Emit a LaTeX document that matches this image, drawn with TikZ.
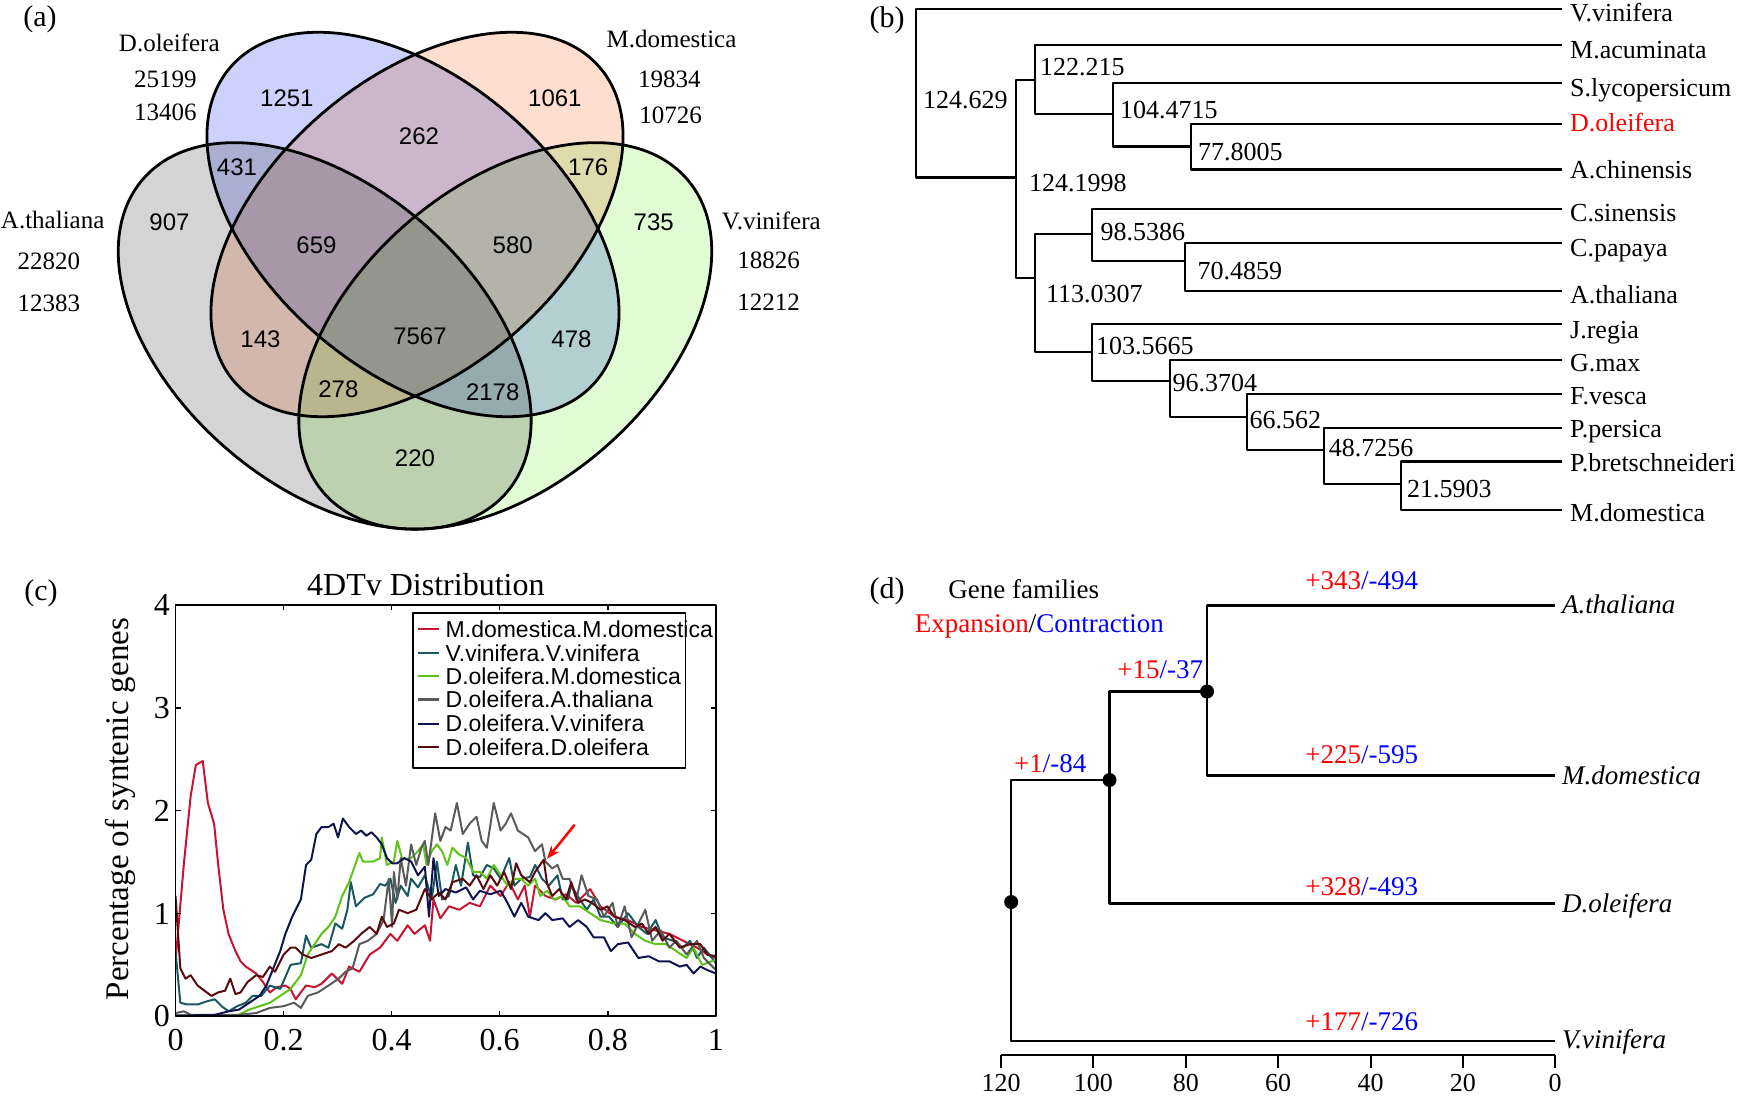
\documentclass[tikz,border=0pt]{standalone}
\usepackage{fontspec}
\setmainfont{Liberation Serif}
\newfontfamily\sansf{Liberation Sans}
\usetikzlibrary{arrows.meta}
\newcommand\fsz[1]{\fontsize{#1}{#1}\selectfont}
\definecolor{vgray}{RGB}{212,212,212}
\definecolor{vblue}{RGB}{205,210,252}
\definecolor{vorange}{RGB}{253,222,207}
\definecolor{vgreen}{RGB}{225,252,212}
\definecolor{cred}{RGB}{200,20,50}
\definecolor{cteal}{RGB}{24,88,96}
\definecolor{cgreen}{RGB}{95,195,25}
\definecolor{cgray}{RGB}{90,90,90}
\definecolor{cnavy}{RGB}{15,20,80}
\definecolor{cbrown}{RGB}{90,10,15}
\begin{document}
\begin{tikzpicture}[x=1pt,y=-1pt,line join=round,
  panel/.style={inner sep=0pt, font=\fsz{30}},
  lab/.style={inner sep=0pt, font=\fsz{25}},
  num/.style={inner sep=0pt, font=\sansf\fsz{24}},
  tiplab/.style={inner sep=0pt, anchor=base west, font=\fsz{26}},
  nodelab/.style={inner sep=0pt, anchor=base west, font=\fsz{26}},
  dlab/.style={inner sep=0pt, anchor=base west, font=\fsz{27}},
  branch/.style={line width=2.2pt},
  dbranch/.style={line width=2.5pt},
  vline/.style={line width=2.8pt},
  curve/.style={line width=2pt},
  legtext/.style={inner sep=0pt, anchor=base west, font=\sansf\fsz{23}},
]
\useasboundingbox (0,0) rectangle (1745,1095);

% ================= (a) Venn =================
\node[panel] (pa) at (40,19) {(a)};
\coordinate (cA) at (324.7,335.9);
\coordinate (cD) at (413,224.5);
\coordinate (cM) at (417,224.5);
\coordinate (cV) at (505.3,335.9);
\fill[vgray, blend mode=multiply, rotate around={-40.7:(cA)}] (cA) ellipse [x radius=240pt, y radius=149.5pt];
\fill[vorange, blend mode=multiply, rotate around={40.7:(cM)}] (cM) ellipse [x radius=241pt, y radius=146pt];
\fill[vblue, blend mode=multiply, rotate around={-40.7:(cD)}] (cD) ellipse [x radius=241pt, y radius=146pt];
\fill[vgreen, blend mode=multiply, rotate around={40.7:(cV)}] (cV) ellipse [x radius=240pt, y radius=149.5pt];
\draw[vline, rotate around={-40.7:(cA)}] (cA) ellipse [x radius=240pt, y radius=149.5pt];
\draw[vline, rotate around={40.7:(cM)}] (cM) ellipse [x radius=241pt, y radius=146pt];
\draw[vline, rotate around={-40.7:(cD)}] (cD) ellipse [x radius=241pt, y radius=146pt];
\draw[vline, rotate around={40.7:(cV)}] (cV) ellipse [x radius=240pt, y radius=149.5pt];

\node[lab] (ldo) at (169.3,43) {D.oleifera};
\node[lab] (ldo1) at (165.4,79.5) {25199};
\node[lab] (ldo2) at (165.4,112) {13406};
\node[lab] (lmd) at (671.5,39.5) {M.domestica};
\node[lab] (lmd1) at (669.3,79.3) {19834};
\node[lab] (lmd2) at (670.7,115) {10726};
\node[lab] (lat) at (52.7,220.4) {A.thaliana};
\node[lab] (lat1) at (48.8,261.7) {22820};
\node[lab] (lat2) at (48.8,303) {12383};
\node[lab] (lvv) at (771.3,220.4) {V.vinifera};
\node[lab] (lvv1) at (768.6,260) {18826};
\node[lab] (lvv2) at (768.6,302.4) {12212};

\node[num] (n1251) at (286.9,97.8) {1251};
\node[num] (n1061) at (554.9,97.8) {1061};
\node[num] (n262) at (419,136) {262};
\node[num] (n431) at (237,167) {431};
\node[num] (n176) at (588.2,167) {176};
\node[num] (n907) at (169.5,222.4) {907};
\node[num] (n735) at (653.7,222.4) {735};
\node[num] (n659) at (316.5,245.5) {659};
\node[num] (n580) at (512.7,245.5) {580};
\node[num] (n7567) at (420,336) {7567};
\node[num] (n143) at (260.5,339.3) {143};
\node[num] (n478) at (571.5,339.3) {478};
\node[num] (n278) at (338.4,389.3) {278};
\node[num] (n2178) at (492.7,392.6) {2178};
\node[num] (n220) at (415,458.2) {220};

% ================= (b) tree =================
\node[panel] (pb) at (887,20) {(b)};
\coordinate (nR) at (916.3,93);
\coordinate (nA) at (1016.2,177.4);
\coordinate (nB) at (1034.6,79.9);
\coordinate (nC) at (1112.7,113.7);
\coordinate (nD) at (1190.9,146.4);
\coordinate (nE) at (1034.6,277.6);
\coordinate (nF) at (1092,234.2);
\coordinate (nG) at (1185.3,260.7);
\coordinate (nH) at (1092,352);
\coordinate (nI) at (1169.6,380.6);
\coordinate (nJ) at (1247.2,416.7);
\coordinate (nK) at (1323.7,450.1);
\coordinate (nL) at (1401.2,483.9);
\coordinate (tVv) at (1562,8.6);
\coordinate (tMa) at (1562,44.8);
\coordinate (tSl) at (1562,82.7);
\coordinate (tDo) at (1562,124);
\coordinate (tAc) at (1562,169.4);
\coordinate (tCs) at (1562,209);
\coordinate (tCp) at (1562,242.8);
\coordinate (tAt) at (1562,291);
\coordinate (tJr) at (1562,323.7);
\coordinate (tGm) at (1562,359.9);
\coordinate (tFv) at (1562,393.6);
\coordinate (tPp) at (1562,427.7);
\coordinate (tPb) at (1562,461.5);
\coordinate (tMd) at (1562,509.7);
\draw[branch] (nR) |- (tVv);
\draw[branch] (nR) |- (nA);
\draw[branch] (nA) |- (nB);
\draw[branch] (nA) |- (nE);
\draw[branch] (nB) |- (tMa);
\draw[branch] (nB) |- (nC);
\draw[branch] (nC) |- (tSl);
\draw[branch] (nC) |- (nD);
\draw[branch] (nD) |- (tDo);
\draw[branch] (nD) |- (tAc);
\draw[branch] (nE) |- (nF);
\draw[branch] (nE) |- (nH);
\draw[branch] (nF) |- (tCs);
\draw[branch] (nF) |- (nG);
\draw[branch] (nG) |- (tCp);
\draw[branch] (nG) |- (tAt);
\draw[branch] (nH) |- (tJr);
\draw[branch] (nH) |- (nI);
\draw[branch] (nI) |- (tGm);
\draw[branch] (nI) |- (nJ);
\draw[branch] (nJ) |- (tFv);
\draw[branch] (nJ) |- (nK);
\draw[branch] (nK) |- (tPp);
\draw[branch] (nK) |- (nL);
\draw[branch] (nL) |- (tPb);
\draw[branch] (nL) |- (tMd);

\node[tiplab] (lVv) at (1570,21.4) {V.vinifera};
\node[tiplab] (lMa) at (1570,58.5) {M.acuminata};
\node[tiplab] (lSl) at (1570,96.4) {S.lycopersicum};
\node[tiplab, text=red] (lDo) at (1570,131.6) {D.oleifera};
\node[tiplab] (lAc) at (1570,178) {A.chinensis};
\node[tiplab] (lCs) at (1570,221) {C.sinensis};
\node[tiplab] (lCp) at (1570,256.6) {C.papaya};
\node[tiplab] (lAt) at (1570,303) {A.thaliana};
\node[tiplab] (lJr) at (1570,338) {J.regia};
\node[tiplab] (lGm) at (1570,371) {G.max};
\node[tiplab] (lFv) at (1570,404) {F.vesca};
\node[tiplab] (lPp) at (1570,437.4) {P.persica};
\node[tiplab] (lPb) at (1570,471.8) {P.bretschneideri};
\node[tiplab] (lMd) at (1570,521.8) {M.domestica};

\node[nodelab] (vR) at (923,108.5) {124.629};
\node[nodelab] (vB) at (1040,75.8) {122.215};
\node[nodelab] (vC) at (1120,118.1) {104.4715};
\node[nodelab] (vD) at (1198,160.1) {77.8005};
\node[nodelab] (vA) at (1029,191.1) {124.1998};
\node[nodelab] (vF) at (1100.5,240.4) {98.5386};
\node[nodelab] (vG) at (1197.5,279) {70.4859};
\node[nodelab] (vE) at (1045.8,302) {113.0307};
\node[nodelab] (vH) at (1096,354) {103.5665};
\node[nodelab] (vI) at (1172.4,391.6) {96.3704};
\node[nodelab] (vJ) at (1249.4,428.8) {66.562};
\node[nodelab] (vK) at (1328.7,456.3) {48.7256};
\node[nodelab] (vL) at (1406.8,497) {21.5903};

% ================= (c) 4DTv =================
\node[panel] (pc) at (41,593) {(c)};
\node[inner sep=0pt, anchor=base, font=\fsz{32}] (ctitle) at (425.9,595.6) {4DTv Distribution};
\node[inner sep=0pt, rotate=90, font=\fsz{33}] (cylab) at (120,809) {Percentage of syntenic genes};
\begin{scope}[shift={(170,555)}, scale=0.3444]
  \begin{scope}
    \clip (16,145.4) rectangle (1585,1339.4);
    \draw[cred, curve] plot coordinates {(16,1180) (40,900) (60,700) (75,610) (95,598) (110,720) (128,780) (140,900) (155,1030) (170,1100) (190,1150) (205,1180) (220,1195) (250,1215) (270,1240) (290,1270) (310,1255) (335,1250) (350,1260) (365,1290) (395,1250) (420,1255) (440,1245) (470,1215) (500,1245) (520,1195) (550,1210) (580,1160) (610,1140) (640,1100) (660,1120) (690,1075) (710,1100) (740,1075) (755,1120) (765,1000) (785,1055) (810,1020) (840,1030) (870,1010) (900,1020) (930,960) (960,990) (985,950) (1010,1000) (1030,960) (1045,1050) (1060,960) (1090,990) (1120,1000) (1150,985) (1180,1010) (1220,970) (1250,1020) (1290,1050) (1330,1060) (1370,1080) (1410,1090) (1450,1100) (1490,1120) (1530,1140) (1560,1160) (1585,1170)};
    \draw[cteal, curve] plot coordinates {(16,1150) (30,1300) (50,1305) (80,1305) (110,1295) (130,1290) (150,1310) (170,1325) (195,1310) (220,1300) (240,1280) (265,1280) (290,1250) (320,1260) (350,1190) (380,1185) (395,1105) (410,1140) (440,1130) (460,1140) (480,1070) (500,1085) (515,1030) (525,950) (540,1020) (565,995) (590,985) (610,955) (625,960) (640,940) (655,1010) (670,960) (690,990) (700,940) (720,965) (740,930) (760,1000) (775,890) (790,1000) (810,990) (830,900) (845,960) (865,835) (880,930) (900,935) (920,900) (940,910) (960,940) (985,880) (1000,960) (1020,940) (1045,935) (1060,900) (1080,940) (1100,960) (1125,930) (1140,1000) (1155,1000) (1165,960) (1190,1000) (1210,1030) (1230,1000) (1250,1050) (1275,1050) (1300,1080) (1330,1040) (1360,1080) (1385,1100) (1410,1060) (1430,1110) (1460,1120) (1490,1140) (1510,1120) (1530,1170) (1550,1140) (1585,1185)};
    \draw[cgreen, curve] plot coordinates {(16,1338) (100,1338) (200,1335) (230,1320) (260,1310) (290,1300) (320,1280) (350,1260) (380,1220) (400,1160) (420,1130) (440,1100) (460,1080) (480,1050) (500,990) (520,950) (550,865) (560,890) (590,890) (610,880) (615,820) (630,900) (650,890) (660,830) (675,885) (700,880) (720,860) (735,840) (745,900) (760,860) (775,840) (790,860) (805,900) (820,850) (840,870) (860,880) (880,920) (900,920) (920,940) (940,900) (960,930) (980,960) (1000,940) (1020,940) (1040,960) (1060,940) (1075,990) (1095,975) (1115,1000) (1140,990) (1160,1020) (1190,1020) (1220,1040) (1250,1060) (1290,1070) (1320,1070) (1350,1100) (1380,1120) (1410,1130) (1440,1130) (1470,1150) (1500,1170) (1520,1140) (1545,1190) (1585,1175)};
    \draw[cgray, curve] plot coordinates {(16,1330) (40,1325) (60,1335) (100,1336) (150,1336) (200,1335) (250,1330) (290,1315) (330,1310) (360,1300) (380,1315) (400,1280) (430,1270) (460,1250) (490,1230) (510,1210) (530,1200) (550,1130) (575,1120) (600,1100) (620,1060) (635,940) (645,1080) (650,920) (660,1000) (670,880) (685,960) (700,840) (715,900) (730,850) (740,830) (750,900) (770,750) (785,830) (800,790) (815,800) (833,720) (850,810) (870,780) (890,760) (905,830) (920,850) (940,720) (960,800) (975,780) (990,750) (1010,800) (1040,820) (1060,860) (1080,840) (1090,890) (1110,910) (1125,900) (1140,940) (1160,940) (1180,1000) (1195,930) (1215,990) (1240,1000) (1260,1050) (1285,1010) (1300,1080) (1320,1020) (1340,1110) (1360,1070) (1380,1030) (1400,1120) (1425,1090) (1450,1140) (1470,1120) (1500,1160) (1530,1120) (1550,1170) (1585,1205)};
    \draw[cnavy, curve] plot coordinates {(16,1337) (60,1337) (100,1335) (130,1335) (170,1325) (200,1320) (230,1300) (260,1280) (280,1250) (300,1200) (320,1150) (335,1100) (355,1050) (370,1020) (380,1000) (395,900) (410,885) (425,810) (440,790) (460,790) (475,780) (488,820) (502,765) (520,790) (540,810) (555,800) (570,815) (585,805) (600,820) (615,840) (630,880) (645,895) (660,895) (680,880) (700,890) (720,930) (740,905) (752,1050) (765,880) (780,990) (800,970) (830,980) (860,965) (880,1000) (900,975) (930,985) (960,975) (980,1010) (1000,1050) (1020,1010) (1040,1050) (1070,1060) (1090,1040) (1110,1060) (1140,1055) (1160,1080) (1185,1060) (1210,1080) (1230,1110) (1260,1110) (1280,1150) (1300,1130) (1330,1125) (1360,1170) (1390,1165) (1420,1180) (1450,1180) (1480,1195) (1500,1190) (1520,1215) (1540,1195) (1560,1205) (1585,1215)};
    \draw[cbrown, curve] plot coordinates {(16,990) (30,1200) (45,1230) (60,1220) (80,1250) (100,1265) (120,1280) (140,1270) (160,1265) (175,1230) (190,1275) (205,1270) (225,1240) (250,1220) (270,1225) (290,1195) (305,1210) (330,1160) (350,1140) (365,1140) (385,1160) (410,1170) (440,1160) (470,1150) (490,1130) (510,1140) (535,1120) (555,1100) (580,1080) (600,1100) (615,1050) (630,1080) (650,1070) (665,1030) (690,1040) (715,1030) (740,970) (760,1000) (780,980) (800,1000) (820,950) (850,940) (870,960) (890,930) (910,970) (930,930) (950,960) (970,920) (990,970) (1005,895) (1020,930) (1045,950) (1060,920) (1085,885) (1095,955) (1110,990) (1130,970) (1150,1000) (1165,950) (1185,1010) (1205,1000) (1225,1010) (1250,1030) (1270,1020) (1290,1050) (1320,1060) (1350,1080) (1370,1070) (1390,1100) (1410,1080) (1430,1120) (1450,1100) (1480,1140) (1510,1130) (1540,1130) (1560,1160) (1585,1165)};
  \end{scope}
  \draw[line width=1.8pt] (16,145.4) rectangle (1585,1339.4);
  \foreach \t in {329.8,643.6,957.4,1271.2} {
    \draw[line width=1.5pt] (\t,1339.4) -- ++(0,-15);
    \draw[line width=1.5pt] (\t,145.4) -- ++(0,15);
  }
  \foreach \t in {443.9,742.4,1040.9} {
    \draw[line width=1.5pt] (16,\t) -- ++(15,0);
    \draw[line width=1.5pt] (1585,\t) -- ++(-15,0);
  }
  \foreach \t/\l in {16/0,329.8/0.2,643.6/0.4,957.4/0.6,1271.2/0.8,1585/1} {
    \node[inner sep=0pt, anchor=base, font=\fsz{32}] at (\t,1440) {\l};
  }
  \foreach \t/\l in {145.4/4,443.9/3,742.4/2,1040.9/1,1339.4/0} {
    \node[inner sep=0pt, anchor=east, font=\fsz{32}] at (0,\t) {\l};
  }
\end{scope}
% legend
\draw[line width=1.5pt, fill=white] (412.8,612.9) rectangle (685.6,767.8);
\foreach \c/\y/\t in {cred/629/M.domestica.M.domestica, cteal/653.2/V.vinifera.V.vinifera, cgreen/676.2/D.oleifera.M.domestica, cgray/699.6/D.oleifera.A.thaliana, cnavy/723.8/D.oleifera.V.vinifera, cbrown/747.2/D.oleifera.D.oleifera} {
  \draw[\c, line width=2.5pt] (418,\y) -- (439.3,\y);
  \node[legtext] at (445.5,\y+8) {\t};
}
\coordinate (arS) at (574.7,824.7);
\coordinate (arE) at (547.1,858.8);
\draw[red, line width=2.5pt, -{Stealth[length=13pt,width=10pt]}] (arS) -- (arE);

% ================= (d) gene families =================
\node[panel] (pd) at (887,591) {(d)};
\node[dlab] (gf) at (948.1,598.4) {Gene families};
\node[dlab] (ec) at (914.6,632) {\textcolor{red}{Expansion}/\textcolor{blue}{Contraction}};
\coordinate (dR) at (1011.2,902);
\coordinate (d1) at (1109.5,780);
\coordinate (d2) at (1207,691.5);
\coordinate (dA) at (1555.2,605.5);
\coordinate (dM) at (1555.2,775.4);
\coordinate (dD) at (1555.2,903.6);
\coordinate (dV) at (1555.2,1040.9);
\draw[dbranch] (dR) |- (d1);
\draw[dbranch] (dR) |- (dV);
\draw[dbranch] (d1) |- (d2);
\draw[dbranch] (d1) |- (dD);
\draw[dbranch] (d2) |- (dA);
\draw[dbranch] (d2) |- (dM);
\fill (dR) circle[radius=7pt];
\fill (d1) circle[radius=7pt];
\fill (d2) circle[radius=7pt];
\node[dlab, font=\fsz{27}\itshape] (iA) at (1562,613.5) {A.thaliana};
\node[dlab, font=\fsz{27}\itshape] (iM) at (1562,784) {M.domestica};
\node[dlab, font=\fsz{27}\itshape] (iD) at (1562,912) {D.oleifera};
\node[dlab, font=\fsz{27}\itshape] (iV) at (1562,1048) {V.vinifera};
\node[dlab] (eA) at (1305.2,589.6) {\textcolor{red}{+343}\textcolor{blue}{/-494}};
\node[dlab] (eM) at (1305.2,763.7) {\textcolor{red}{+225}\textcolor{blue}{/-595}};
\node[dlab] (eD) at (1305.2,895.8) {\textcolor{red}{+328}\textcolor{blue}{/-493}};
\node[dlab] (eV) at (1305.2,1030.3) {\textcolor{red}{+177}\textcolor{blue}{/-726}};
\node[dlab] (e2) at (1117.2,678.8) {\textcolor{red}{+15}\textcolor{blue}{/-37}};
\node[dlab] (e1) at (1014,772.6) {\textcolor{red}{+1}\textcolor{blue}{/-84}};
\coordinate (ax0) at (1001.1,1055);
\coordinate (ax1) at (1555.2,1055);
\draw[line width=2pt] (ax0) -- (ax1);
\foreach \v in {0,20,40,60,80,100,120} {
  \draw[line width=2pt] ({1555.2-\v*4.6175},1055) -- ++(0,12.5);
  \node[inner sep=0pt, anchor=base, font=\fsz{26}] at ({1555.2-\v*4.6175},1091) {\v};
}
\end{tikzpicture}
\end{document}
